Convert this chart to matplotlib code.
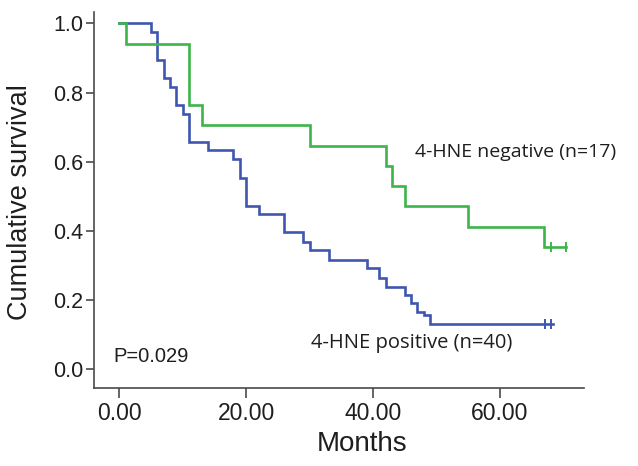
import numpy as np
import matplotlib
matplotlib.use('Agg')
import matplotlib.pyplot as plt

# Kaplan-Meier steps (months, cumulative survival)
neg_times = [0, 1, 11, 13, 30, 42, 43, 45, 55, 67]
neg_surv = [1.0, 0.941, 0.765, 0.706, 0.647, 0.588, 0.529, 0.471, 0.412, 0.353]
neg_end = 70.4
neg_censor = [68.1, 70.4]

pos_times = [0, 5, 6, 7, 8, 9, 10, 11, 14, 18, 19, 20, 22, 26, 29, 30, 33,
             39, 41, 42, 45, 46, 47, 48, 49]
pos_surv = [1.0, 0.974, 0.894, 0.841, 0.817, 0.764, 0.737, 0.658, 0.634, 0.607,
            0.552, 0.472, 0.448, 0.398, 0.369, 0.345, 0.316, 0.292, 0.263, 0.239,
            0.215, 0.191, 0.166, 0.157, 0.132]
pos_end = 68.4
pos_censor = [67.2, 68.1]

xticks = [0, 20, 40, 60]
yticks = [0.0, 0.2, 0.4, 0.6, 0.8, 1.0]

GREEN = '#3DB54A'
BLUE = '#3F56B0'
AXCOL = '#4a4a4a'
TXT = '#1e1e1e'

plt.rcParams['font.family'] = ['Liberation Sans', 'DejaVu Sans']

fig = plt.figure(figsize=(6.38, 4.66), dpi=100)
ax = fig.add_axes([0.1473, 0.1667, 0.9154 - 0.1473, 0.975 - 0.1667])

def km_step(times, surv, end, censor, color):
    t = list(times) + [end]
    s = list(surv) + [surv[-1]]
    ax.step(t, s, where='post', color=color, lw=1.9, solid_joinstyle='miter')
    ax.plot(censor, [surv[-1]] * len(censor), ls='none', marker='|',
            ms=7, mew=1.4, color=color)

km_step(pos_times, pos_surv, pos_end, pos_censor, BLUE)
km_step(neg_times, neg_surv, neg_end, neg_censor, GREEN)

ax.set_xlim(-4.0, 73.3)
ax.set_ylim(-0.055, 1.034)
ax.set_xticks(xticks)
ax.set_xticklabels(['%.2f' % v for v in xticks])
ax.set_yticks(yticks)
ax.set_yticklabels(['%.1f' % v for v in yticks])

for side in ['top', 'right']:
    ax.spines[side].set_visible(False)
for side in ['left', 'bottom']:
    ax.spines[side].set_color(AXCOL)
    ax.spines[side].set_linewidth(1.2)
ax.tick_params(axis='x', length=7, width=1.2, color=AXCOL, labelsize=16.5, pad=3)
ax.tick_params(axis='y', length=6, width=1.2, color=AXCOL, labelsize=15.5, pad=1.5)
for lab in ax.get_xticklabels() + ax.get_yticklabels():
    lab.set_color(TXT)

ax.set_xlabel('Months', fontsize=20, color=TXT)
ax.xaxis.set_label_coords(0.547, -0.112)
ax.set_ylabel('Cumulative survival', fontsize=19.5, color=TXT)
ax.yaxis.set_label_coords(-0.124, 0.495)

# group labels and p value
ax.text(46.6, 0.615, '4-HNE negative (n=17)', fontsize=14, family=['Open Sans', 'DejaVu Sans'],
        color=TXT, va='baseline', ha='left')
ax.text(30.3, 0.061, '4-HNE positive (n=40)', fontsize=14.5, family=['Open Sans', 'DejaVu Sans'],
        color=TXT, va='baseline', ha='left')
ax.text(-1.0, 0.022, 'P=0.029', fontsize=14.5, color=TXT, va='baseline', ha='left')

fig.savefig('out.png', dpi=100)
